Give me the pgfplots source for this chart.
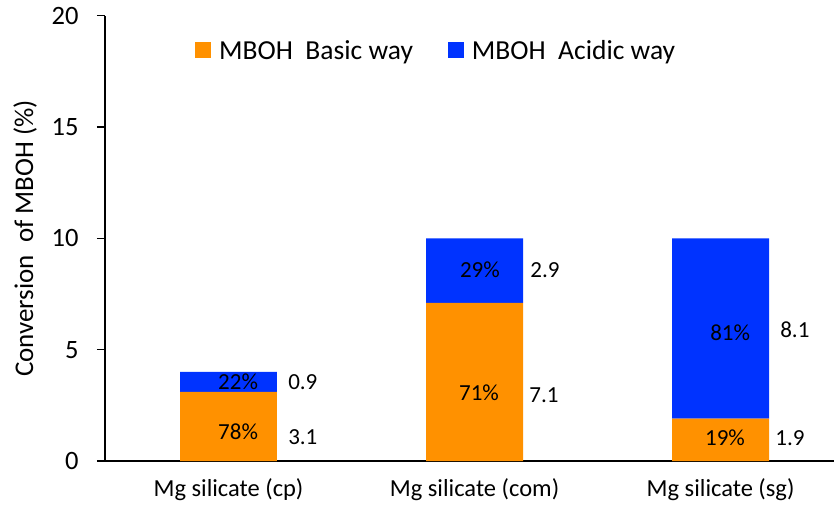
\documentclass[border=0pt]{standalone}
\usepackage{pgfplots}
\pgfplotsset{compat=1.18}
\usepackage{fontspec}
\setmainfont{Carlito}
\definecolor{basicc}{HTML}{FF9100}
\definecolor{acidc}{HTML}{0033FF}
\tikzset{
    lab/.style={font=\fontsize{23}{23}\selectfont, inner sep=0pt},
}

\begin{document}
\begin{tikzpicture}
\begin{axis}[
    at={(0,0)}, anchor=south west,
    scale only axis, width=729pt, height=445.3pt,
    xmin=-0.502, xmax=2.461, ymin=0, ymax=20,
    ybar stacked, bar width=0.394,
    axis x line*=bottom, axis y line*=left,
    axis line style={line width=1.3pt, black},
    xtick={0,1,2},
    xticklabels={Mg silicate (cp), Mg silicate (com), Mg silicate (sg)},
    xtick style={draw=none},
    ytick={0,5,10,15,20},
    tick align=outside, major tick length=8pt,
    ytick style={line width=1.3pt, black},
    /pgf/number format/assume math mode=true,
    yticklabel style={font=\fontsize{26.5}{26.5}\selectfont, xshift=-15pt},
    xticklabel style={font=\fontsize{24.5}{24.5}\selectfont, yshift=-6pt},
    ylabel={Conversion\ \ of MBOH (\%)},
    ylabel style={at={(axis description cs:0,0.5)}, anchor=center, yshift=80pt,
        font=\fontsize{27}{27}\selectfont},
    legend style={at={(0.1235,0.922)}, anchor=west, draw=none, fill=none, inner sep=0pt,
        font=\fontsize{27.5}{27.5}\selectfont, legend columns=2,
        /tikz/every odd column/.append style={column sep=6pt},
        /tikz/every even column/.append style={column sep=33pt}},
    legend image code/.code={\fill[#1] (0pt,-8pt) rectangle (16pt,8pt);},
    clip=false,
]
\addplot[fill=basicc, draw=none] coordinates {(0,3.1) (1,7.1) (2,1.9)};
\addplot[fill=acidc, draw=none] coordinates {(0,0.9) (1,2.9) (2,8.1)};
\legend{MBOH~~Basic way, MBOH~~Acidic way}

% label anchors (share inside the bar, value to the right)
\coordinate (s1) at (axis cs:0.039,1.30);
\coordinate (v1) at (axis cs:0.242,1.08);
\coordinate (s2) at (axis cs:0.039,3.55);
\coordinate (v2) at (axis cs:0.242,3.55);
\coordinate (s3) at (axis cs:1.018,3.05);
\coordinate (v3) at (axis cs:1.222,2.96);
\coordinate (s4) at (axis cs:1.022,8.58);
\coordinate (v4) at (axis cs:1.226,8.58);
\coordinate (s5) at (axis cs:2.039,5.75);
\coordinate (v5) at (axis cs:2.242,5.88);
\coordinate (s6) at (axis cs:2.018,1.03);
\coordinate (v6) at (axis cs:2.222,1.03);
\end{axis}
\node[lab, anchor=center] at (s1) {78\%};
\node[lab, anchor=west]   at (v1) {3.1};
\node[lab, anchor=center] at (s2) {22\%};
\node[lab, anchor=west]   at (v2) {0.9};
\node[lab, anchor=center] at (s3) {71\%};
\node[lab, anchor=west]   at (v3) {7.1};
\node[lab, anchor=center] at (s4) {29\%};
\node[lab, anchor=west]   at (v4) {2.9};
\node[lab, anchor=center] at (s5) {81\%};
\node[lab, anchor=west]   at (v5) {8.1};
\node[lab, anchor=center] at (s6) {19\%};
\node[lab, anchor=west]   at (v6) {1.9};
\pgfresetboundingbox
\path (-105pt,-45pt) rectangle (729pt,461pt);
\end{tikzpicture}
\end{document}
